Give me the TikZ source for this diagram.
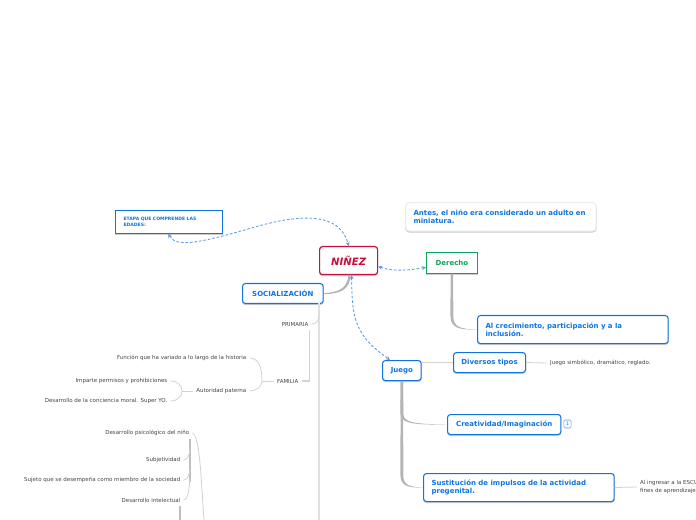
\documentclass[tikz,border=0pt]{standalone}
\usepackage{fontspec}
\setmainfont{DejaVu Sans}
\usetikzlibrary{calc,arrows.meta,shadows}
\definecolor{bl}{HTML}{0F74E0}
\definecolor{rd}{HTML}{C8103A}
\definecolor{gr}{HTML}{0DA35A}
\definecolor{dash}{HTML}{5A9BE6}
\definecolor{txt}{HTML}{444444}
\definecolor{lk}{HTML}{D2D2D2}
\definecolor{tk}{HTML}{B4B4B4}
\newcommand{\taper}[3]{\fill[tk] ([xshift=-1.0pt]#1) -- ($(#1 |- #2)+(-1.4,-#3)$) .. controls ($(#1 |- #2)+(-1.4,-2)$) and ($(#1 |- #2)+(6,0.5)$) .. (#2) .. controls ($(#1 |- #2)+(7,-0.5)$) and ($(#1 |- #2)+(1.4,-3)$) .. ($(#1 |- #2)+(1.4,-#3)$) -- ([xshift=1.0pt]#1) -- cycle;}
\tikzset{
 box/.style={draw=bl,line width=0.8pt,rounded corners=2.2pt,fill=white,text=bl,font=\fontsize{5.25}{6.2}\selectfont\bfseries,anchor=north west,inner sep=0pt,align=left,copy shadow={shadow xshift=0pt,shadow yshift=-0.7pt,draw=black!20,fill=black!20}},
 small/.style={text=txt,font=\fontsize{4.12}{5.8}\selectfont,anchor=east,inner sep=2.2pt,align=left},
 link/.style={draw=lk,line width=0.6pt},
 darr/.style={draw=dash,line width=0.65pt,dashed,dash pattern=on 2pt off 1.4pt,{Stealth[length=3pt,width=3pt]}-{Stealth[length=3pt,width=3pt]}},
}
\begin{document}
\begin{tikzpicture}[x=0.75pt,y=-0.75pt]
\useasboundingbox (0,0) rectangle (696,520);
\clip (0,0) rectangle (696,520);
% nodes
\node[box,draw=rd,text=rd,line width=0.9pt,minimum width=43.5pt,minimum height=21pt,align=center,font=\fontsize{7.6}{8}\selectfont\bfseries\itshape] (nino) at (319,246) {NIÑEZ};
\node[box,minimum width=60.5pt,minimum height=15pt,align=center] (soc) at (242,283) {SOCIALIZACIÓN};
\node[box,rounded corners=0pt,minimum width=78.5pt,minimum height=17pt,text width=68pt,inner xsep=6pt,font=\fontsize{3.4}{5}\selectfont\bfseries] (etapa) at (115,210) {ETAPA QUE COMPRENDE LAS\\EDADES:};
\node[box,draw=black!8,rounded corners=3pt,minimum width=143pt,minimum height=21.5pt,text width=131pt,inner xsep=6pt] (antes) at (405,202) {Antes, el niño era considerado un adulto en\\miniatura.};
\node[box,draw=gr,text=gr,rounded corners=0pt,minimum width=38pt,minimum height=15.5pt,align=center] (der) at (426,252) {Derecho};
\node[box,minimum width=143pt,minimum height=21pt,text width=131pt,inner xsep=6pt] (crec) at (477,315) {Al crecimiento, participación y a la\\inclusión.};
\node[box,minimum width=29pt,minimum height=15pt,align=center] (jue) at (382,360) {Juego};
\node[box,minimum width=54pt,minimum height=15pt,align=center] (div) at (453,352) {Diversos tipos};
\node[box,minimum width=85pt,minimum height=15pt,align=center] (cre) at (447,414) {Creatividad/Imaginación};
\node[box,minimum width=143pt,minimum height=21pt,text width=131pt,inner xsep=6pt] (sus) at (423,473) {Sustitución de impulsos de la actividad\\pregenital.};
\node[draw=bl!70,line width=0.4pt,rounded corners=1pt,text=bl,inner sep=0pt,minimum width=5.5pt,minimum height=6pt,font=\fontsize{3.5}{4}\selectfont] (uno) at (567.5,424) {1};
\node[small,anchor=west] (js) at (547,363) {Juego simbólico, dramático, reglado.};
\node[small,anchor=west] (al) at (637,487) {Al ingresar a la ESCU\\fines de aprendizaje};
\node[small] (pri) at (311.5,324) {PRIMARIA};
\node[small] (fam) at (301.5,381) {FAMILIA};
\node[small] (fun) at (249.5,358) {Función que ha variado a lo largo de la historia};
\node[small] (aut) at (249.5,391) {Autoridad paterna};
\node[small] (imp) at (170.5,381) {Imparte permisos y prohibiciones};
\node[small] (con) at (170.5,401) {Desarrollo de la conciencia moral. Super YO.};
\node[small] (psi) at (192.5,433) {Desarrollo psicológico del niño};
\node[small] (sub) at (183.5,460) {Subjetividad};
\node[small] (suj) at (183.5,480) {Sujeto que se desempeña como miembro de la sociedad};
\node[small] (int) at (183.5,500) {Desarrollo intelectual};
\coordinate (ttop) at (319,303);
\coordinate (tbot) at (319,520);
\coordinate (pbar) at (190,439);
\coordinate (pbarb) at (190,482);
\coordinate (ibar) at (180,506);
\coordinate (ibarb) at (180,520);
\coordinate (pend) at (204,520);
\coordinate (fbar) at (262,381);
\coordinate (abar) at (182,391);
% connectors
\draw[draw=black!12,line width=1.4pt] (ttop) -- (tbot);
\draw[link,line width=0.9pt] (pri.south east) ++(-2,1) coordinate (pf) -- (pf |- fam.east) -- (fam.east);
\draw[link] (pri.east) .. controls (316,324) and (318,322) .. (319,316);
\draw[link] (fam.west) -- (fbar);
\draw[link] (fbar) .. controls (262,366) and (258,358) .. (fun.east);
\draw[link] (fbar) .. controls (262,386) and (257,391) .. (aut.east);
\draw[link] (aut.west) -- (abar);
\draw[link] (abar) .. controls (182,386) and (178,381) .. (imp.east);
\draw[link] (abar) .. controls (182,396) and (178,401) .. (con.east);
\draw[link,draw=black!25,line width=1.1pt] (pbar) -- (pbarb);
\draw[link,draw=black!25,line width=1.1pt] (ibar) -- (ibarb);
\draw[link] (psi.east) .. controls (200,436) and (201,480) .. (pend);
\draw[link] (sub.east) .. controls (187,460) and (189,456) .. (190,450);
\draw[link] (suj.east) .. controls (187,480) and (189,476) .. (190,470);
\draw[link] (int.east) .. controls (187,500) and (189,494) .. (190,478);
\draw[link] (jue.east |- div.west) -- (div.west);
\draw[link] (div.east) -- (js.west);
\draw[link] (sus.east) -- (al.west);
\fill[tk] ($(soc.east)+(0,-0.3)$) .. controls (340,292) and (347,288) .. (348.5,275) -- (350.5,275) .. controls (350,290) and (340,294) .. ($(soc.east)+(0,0.5)$) -- cycle;
\taper{der.south}{crec.west}{14}
\taper{jue.south}{cre.west}{12}
\taper{jue.south}{sus.west}{12}
% dashed relations
\draw[darr] ($(etapa.south)+(-0.5,0)$) .. controls (176,248) and (200,243) .. (255,227) .. controls (300,214) and (340,212) .. (nino.north);
\draw[darr] ($(nino.east)+(0,6)$) .. controls (395,272) and (410,270) .. ($(der.west)+(0,4.5)$);
\draw[darr] ($(nino.south)+(3,0)$) .. controls (352,320) and (355,335) .. (390,360);
\end{tikzpicture}
\end{document}
